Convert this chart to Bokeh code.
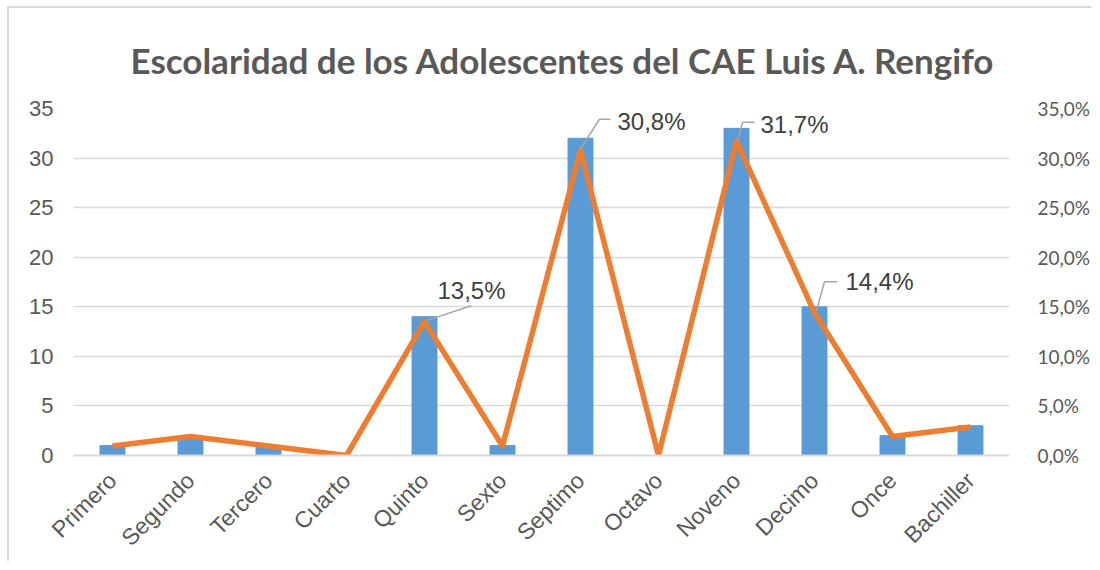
import math
from bokeh.plotting import figure
from bokeh.models import Range1d, LinearAxis, FixedTicker, Title, ColumnDataSource
from bokeh.core.properties import value
from bokeh.embed import file_html
from bokeh.resources import INLINE

categories = ["Primero", "Segundo", "Tercero", "Cuarto", "Quinto", "Sexto",
              "Septimo", "Octavo", "Noveno", "Decimo", "Once", "Bachiller"]
counts = [1, 2, 1, 0, 14, 1, 32, 0, 33, 15, 2, 3]
percents = [0.96, 1.92, 0.96, 0.0, 13.5, 0.96, 30.8, 0.0, 31.7, 14.4, 1.92, 2.88]
left_ticks = [0, 5, 10, 15, 20, 25, 30, 35]
right_tick_labels = ["0,0%", "5,0%", "10,0%", "15,0%", "20,0%", "25,0%", "30,0%", "35,0%"]
labelled = ["Quinto", "Septimo", "Noveno", "Decimo"]
label_texts = ["13,5%", "30,8%", "31,7%", "14,4%"]
title_text = "Escolaridad de los Adolescentes del CAE Luis A. Rengifo"

# styling: label placement offsets in pixels (leader start/mid/end, text anchor)
leader_px = [
    [(2, 1), (47, 16), (47, 16)],
    [(0, 1), (19, 31), (30, 31)],
    [(1, 0), (6, 19), (18, 19)],
    [(2, 2), (10, 31), (23, 31)],
]
text_px = [(47, 31, "center"), (37, 29, "left"), (24, 17, "left"), (31, 31, "left")]

W, H = 1084, 555
ML, MR, MT, MB = 64, 81, 100, 107
frame_w = W - ML - MR
frame_h = H - MT - MB

p = figure(width=W, height=H, output_backend="svg", toolbar_location=None,
           x_range=Range1d(-0.5, 11.5), y_range=Range1d(0, 35),
           min_border_left=ML, min_border_right=MR, min_border_top=MT,
           min_border_bottom=MB)
p.styles = {"border-left": "2px solid #d9d9d9", "border-top": "2px solid #d9d9d9",
            "margin-left": "7px", "margin-top": "6px"}
p.outline_line_color = None
p.background_fill_color = "white"
p.border_fill_color = "white"

p.extra_y_ranges = {"pct": Range1d(0, 35)}

p.add_layout(Title(text=title_text, align="left", offset=57, standoff=56,
                   text_font="Lato", text_font_style="bold", text_font_size="35px",
                   text_color="#595959"), "above")

xs = list(range(len(categories)))
p.vbar(x=xs, top=counts, width=0.32, color="#5B9BD5")
p.line(x=xs, y=percents, y_range_name="pct", line_color="#ED7D31",
       line_width=5.5, line_join="round")

# data labels with leader lines
xpx = frame_w / 12.0
ypx = frame_h / 35.0
lx, ly = [], []
tx, ty, txt, xo, yo, al = [], [], [], [], [], []
for k, name in enumerate(labelled):
    i = categories.index(name)
    v = percents[i]
    lx.append([i + dx / xpx for dx, dy in leader_px[k]])
    ly.append([v + dy / ypx for dx, dy in leader_px[k]])
    tx.append(i); ty.append(v); txt.append(label_texts[k])
    xo.append(text_px[k][0]); yo.append(-text_px[k][1]); al.append(text_px[k][2])
p.multi_line(xs=lx, ys=ly, line_color="#a6a6a6", line_width=1.5)
src = ColumnDataSource(dict(x=tx, y=ty, t=txt, xo=xo, yo=yo, al=al))
p.text(x="x", y="y", text="t", x_offset="xo", y_offset="yo", text_align="al",
       text_baseline="middle", text_font=value("Liberation Sans"),
       text_font_size="24px", text_color="#404040", source=src, y_range_name="pct")

# grid
p.xgrid.grid_line_color = None
p.ygrid.grid_line_color = "#d9d9d9"
p.ygrid.grid_line_width = 1.5
p.ygrid.ticker = FixedTicker(ticks=left_ticks)

# x axis
xa = p.xaxis[0]
xa.ticker = FixedTicker(ticks=xs)
xa.major_label_overrides = {i: c for i, c in enumerate(categories)}
xa.major_label_orientation = math.pi / 4
xa.major_label_text_font = "Liberation Sans"
xa.major_label_text_font_size = "23px"
xa.major_label_text_color = "#595959"
xa.axis_line_color = "#d9d9d9"
xa.axis_line_width = 2
xa.major_tick_line_color = None
xa.minor_tick_line_color = None
xa.major_label_standoff = 15

# left axis
ya = p.yaxis[0]
ya.ticker = FixedTicker(ticks=left_ticks)
ya.axis_line_color = None
ya.major_tick_line_color = None
ya.minor_tick_line_color = None
ya.major_label_text_font = "Liberation Sans"
ya.major_label_text_font_size = "22px"
ya.major_label_text_color = "#595959"
ya.major_label_standoff = 14

# right axis
ra = LinearAxis(y_range_name="pct", ticker=FixedTicker(ticks=left_ticks))
ra.major_label_overrides = {v: s for v, s in zip(left_ticks, right_tick_labels)}
ra.axis_line_color = None
ra.major_tick_line_color = None
ra.minor_tick_line_color = None
ra.major_label_text_font = "Lato"
ra.major_label_text_font_size = "19px"
ra.major_label_text_color = "#595959"
ra.major_label_standoff = 22
p.add_layout(ra, "right")

open("out.html", "w").write(file_html(p, INLINE))
